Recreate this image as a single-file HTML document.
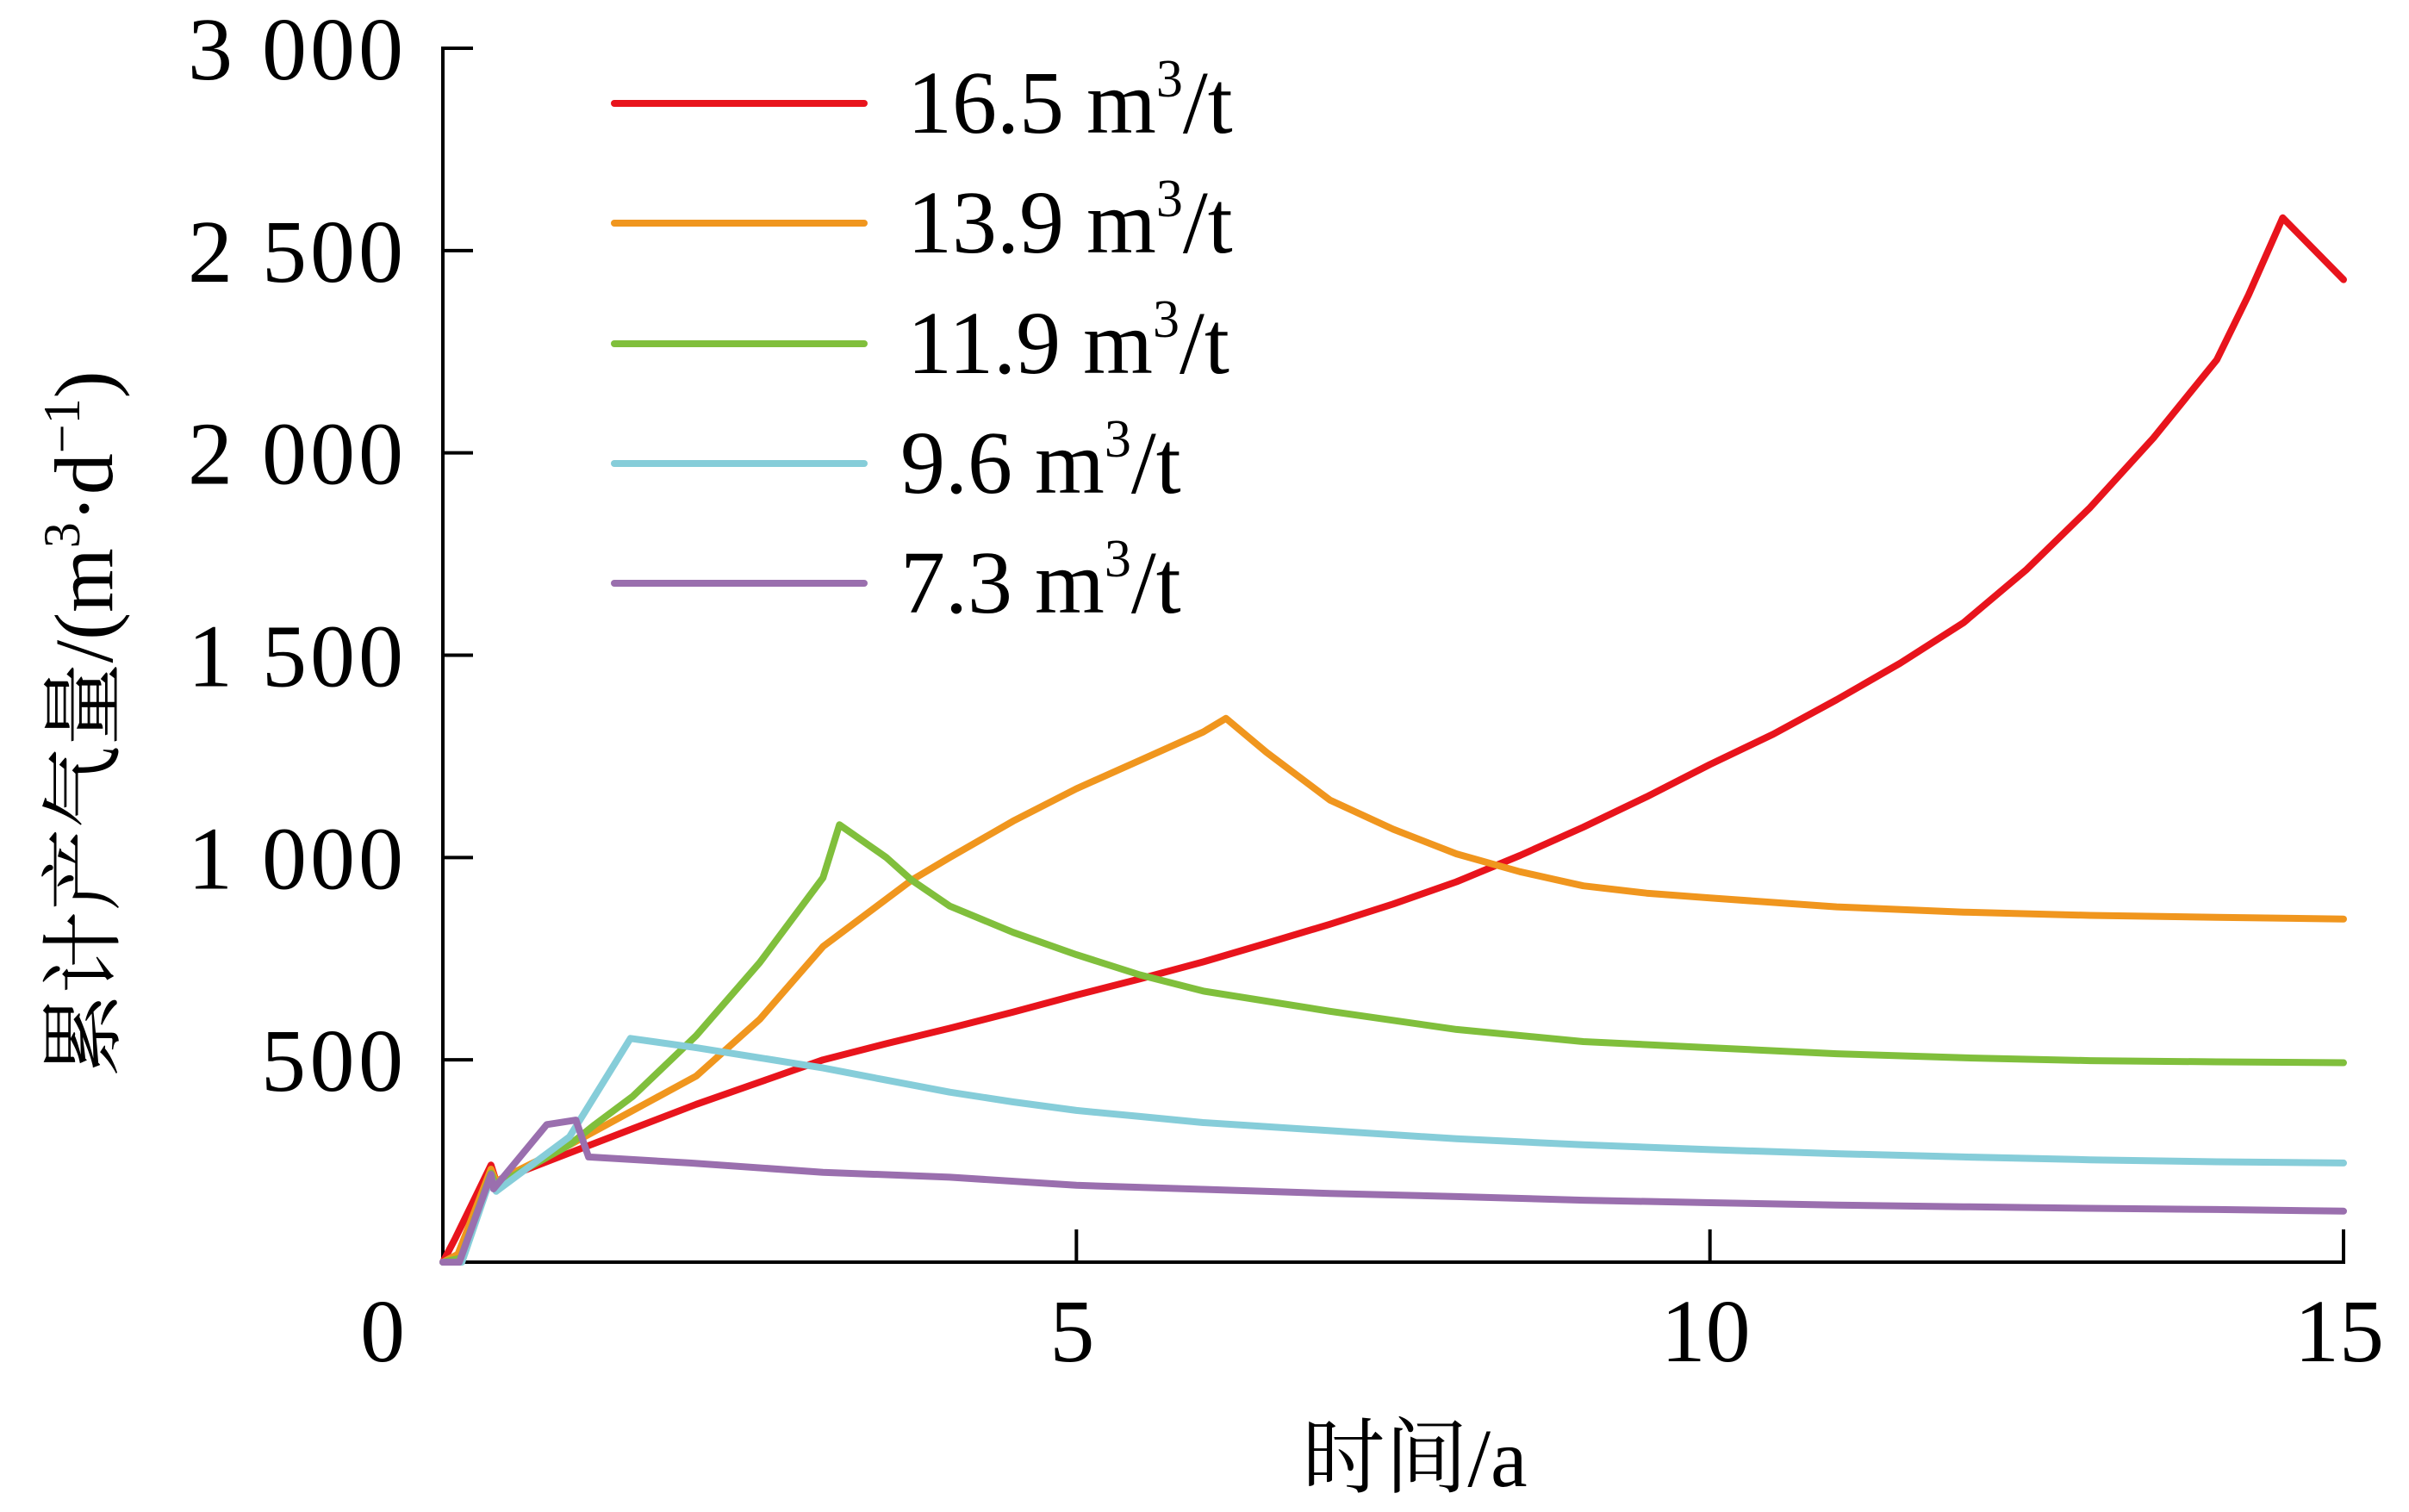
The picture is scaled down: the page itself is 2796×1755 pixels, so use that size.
<!DOCTYPE html>
<html><head><meta charset="utf-8"><style>
html,body{margin:0;padding:0;background:#fff;}
svg{display:block;}
text{font-family:"Liberation Serif","Noto Serif CJK SC",serif;fill:#000;}
</style></head><body>
<svg id="chart" width="2796" height="1755" viewBox="0 0 2796 1755" xmlns="http://www.w3.org/2000/svg">
<g id="axes"></g>
<g id="series"></g>
<g id="legend"></g>
<text x="1642" y="1725" font-size="96" text-anchor="middle">时间/a</text>
<text transform="translate(130,840) rotate(-90)" font-size="96" text-anchor="middle">累计产气量/(m<tspan font-size="60" dy="-38">3</tspan><tspan dy="38">·d</tspan><tspan font-size="60" dy="-38">−1</tspan><tspan dy="38">)</tspan></text>
</svg>
<script>
const xTicks=[0,5,10,15];
const xTickLabels=["0","5","10","15"];
const yTicks=[500,1000,1500,2000,2500,3000];
const yTickLabels=["500","1 000","1 500","2 000","2 500","3 000"];
const seriesNames=["16.5 m3/t","13.9 m3/t","11.9 m3/t","9.6 m3/t","7.3 m3/t"];
const seriesColors=["#e8141c","#f0961e","#80bf3c","#86cdd9","#9a6fae"];
const tRed=[0,0.1,0.38,0.42,1,1.5,2,2.5,3,3.5,4,4.5,5,5.5,6,6.5,7,7.5,8,8.5,9,9.5,10,10.5,11,11.5,12,12.5,13,13.5,14,14.25,14.52,15];
const vRed=[0,60,240,200,270,330,390,445,500,540,578,618,660,700,742,788,835,885,940,1005,1075,1150,1230,1305,1390,1480,1580,1712,1865,2037,2230,2390,2581,2428];
const tOrange=[0,0.12,0.38,0.42,1,2,2.5,3,3.7,4,4.5,5,5.5,6,6.18,6.5,7,7.5,8,8.5,9,9.5,10,11,12,13,14,15];
const vOrange=[0,20,230,200,290,460,600,780,944,1000,1090,1170,1240,1310,1344,1260,1142,1070,1009,965,930,912,900,878,865,857,852,848];
const tGreen=[0,0.14,0.38,0.42,1,1.2,1.5,2,2.5,3,3.13,3.5,3.7,4,4.5,5,5.5,6,7,8,9,10,11,12,13,14,15];
const vGreen=[0,10,220,190,290,340,410,560,740,950,1081,1000,944,880,815,760,710,670,620,575,545,530,515,505,498,495,493];
const tCyan=[0,0.15,0.38,0.42,1,1.48,2,2.5,3,3.5,4,4.5,5,5.5,6,7,8,9,10,11,12,13,14,15];
const vCyan=[0,0,210,175,310,553,530,505,480,450,420,396,375,360,345,325,305,290,278,268,260,253,248,245];
const tPurple=[0,0.13,0.38,0.4,0.82,1.05,1.15,1.95,3,4,5,6,7,8,9,10,11,12,13,14,15];
const vPurple=[0,0,217,181,340,351,260,245,222,210,190,180,170,162,153,147,141,137,133,130,126];
const seriesT=[tRed,tOrange,tGreen,tCyan,tPurple];
const seriesV=[vRed,vOrange,vGreen,vCyan,vPurple];

const X0=514,X1=2720,Y0=1465,Y1=56;
const xs=t=>X0+(X1-X0)*t/15;
const ys=v=>Y0-(Y0-Y1)*v/3000;
const NS="http://www.w3.org/2000/svg";
function mk(tag,attrs,parent){const e=document.createElementNS(NS,tag);for(const k in attrs)e.setAttribute(k,attrs[k]);parent.appendChild(e);return e;}
const axes=document.getElementById('axes');
const yAxis=mk('line',{x1:X0,y1:Y1-2,x2:X0,y2:Y0+2,stroke:'#000','stroke-width':4},axes);


const xAxis=mk('line',{x1:X0-2,y1:Y0,x2:X1+2,y2:Y0,stroke:'#000','stroke-width':4},axes);


yTicks.forEach((v,i)=>{
  const tk=mk('line',{x1:X0,y1:ys(v),x2:X0+35,y2:ys(v),stroke:'#000','stroke-width':4},axes);
  
  
  const tx=mk('text',{x:468,y:ys(v)+36,'font-size':104,'text-anchor':'end','textLength':(yTickLabels[i].length>3?250:165)},axes);
  tx.textContent=yTickLabels[i];
  
  
});
xTicks.forEach((t,i)=>{
  if(t>0){
    const tk=mk('line',{x1:xs(t),y1:Y0,x2:xs(t),y2:Y0-38,stroke:'#000','stroke-width':4},axes);
    
    
  }
  const tx=mk('text',{x:t===0?444:xs(t)-5,y:1580,'font-size':104,'text-anchor':'middle'},axes);
  tx.textContent=xTickLabels[i];
  
  
});
const sg=document.getElementById('series');
seriesT.forEach((ts,s)=>{
  const d=ts.map((t,i)=>(i?'L':'M')+xs(t).toFixed(1)+','+ys(seriesV[s][i]).toFixed(1)).join(' ');
  const p=mk('path',{d:d,fill:'none',stroke:seriesColors[s],'stroke-width':8,'stroke-linejoin':'round','stroke-linecap':'round'},sg);
  
  
});
const lg=document.getElementById('legend');
const legY=[120,259,399,538,677];
seriesNames.forEach((n,s)=>{
  const g=mk('g',{},lg);
  
  
  mk('line',{x1:713,y1:legY[s],x2:1003,y2:legY[s],stroke:seriesColors[s],'stroke-width':8,'stroke-linecap':'round'},g);
  const parts=n.split(' ');
  const num=parts[0];
  const tx=mk('text',{x:s>=3?1045:1053,y:legY[s]+34,'font-size':104},g);
  tx.appendChild(document.createTextNode(num+' m'));
  const sup=mk('tspan',{'font-size':62,dy:-42},tx);
  sup.textContent='3';
  const rest=mk('tspan',{dy:42},tx);
  rest.textContent='/t';
});
</script>
</body></html>
